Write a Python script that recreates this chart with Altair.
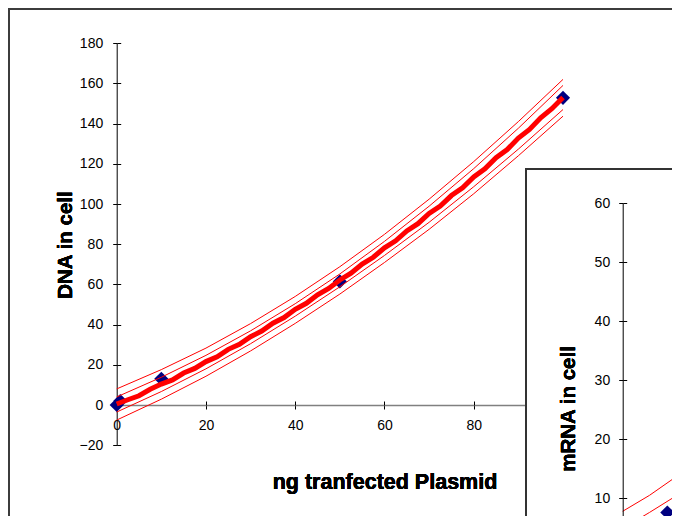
import altair as alt
import pandas as pd

# ---------------- DNA panel (main) ----------------
dna_ng = [0, 0.8, 10, 50, 100]
dna_cell = [0, 2, 13, 61.5, 152.8]

fit_ng = [0, 2.5, 5, 7.5, 10, 12.5, 15, 17.5, 20, 22.5, 25, 27.5, 30, 32.5, 35, 37.5,
          40, 42.5, 45, 47.5, 50, 52.5, 55, 57.5, 60, 62.5, 65, 67.5, 70, 72.5, 75,
          77.5, 80, 82.5, 85, 87.5, 90, 92.5, 95, 97.5, 100]
fit_dna = [0.5, 2.6, 4.6, 7.8, 10.4, 12.5, 15.9, 18.2, 21.6, 24.0, 27.7, 30.2, 34.0,
           36.8, 40.7, 43.5, 47.6, 50.6, 54.8, 58.0, 62.2, 65.6, 70.1, 73.5, 78.2,
           81.7, 86.6, 90.2, 95.3, 99.0, 104.2, 108.1, 113.5, 117.5, 123.0, 127.1,
           132.8, 137.1, 142.9, 147.4, 153.0]

band_ng = [0, 10, 20, 30, 40, 50, 60, 70, 80, 90, 100]
upper_outer = [8.0, 17.6, 28.3, 40.5, 54.0, 68.8, 84.9, 102.4, 121.1, 141.0, 162.0]
upper_inner = [4.0, 13.8, 24.7, 36.9, 50.4, 65.2, 81.4, 98.9, 117.6, 137.7, 159.0]
lower_inner = [-3.5, 6.7, 18.0, 30.5, 44.2, 58.8, 74.4, 90.9, 108.6, 127.3, 147.0]
lower_outer = [-7.5, 2.9, 14.3, 26.9, 40.6, 55.2, 70.9, 87.4, 105.1, 124.0, 143.7]

dna_ticks_x = [0, 20, 40, 60, 80, 100]
dna_ticks_y = [-20, 0, 20, 40, 60, 80, 100, 120, 140, 160, 180]

# ---------------- mRNA panel (inset) ----------------
mrna_ng = [0, 10]
mrna_cell = [0.8, 7.6]

mfit_ng = [0, 2.5, 5, 7.5, 10, 12.5, 15, 17.5, 20]
mfit_cell = [1.3, 2.6, 3.6, 4.9, 5.9, 7.2, 8.3, 9.5, 10.5]

mband_ng = [0, 6, 13, 20]
m_upper_outer = [7.8, 10.5, 14.2, 18.0]
m_upper_inner = [4.9, 7.6, 10.9, 14.0]
m_lower_inner = [-2.0, 0.7, 4.0, 7.2]
m_lower_outer = [-5.2, -2.5, 0.8, 4.0]

mrna_ticks_y = [10, 20, 30, 40, 50, 60]

W, H = 664, 508
FONT = "Liberation Sans"

# ---------------- tables ----------------
pts = pd.DataFrame({"ng": dna_ng, "val": dna_cell})
fit = pd.DataFrame({"ng": fit_ng, "val": fit_dna})
bands = pd.concat([
    pd.DataFrame({"ng": band_ng, "val": v, "band": n})
    for n, v in [("uo", upper_outer), ("ui", upper_inner),
                 ("li", lower_inner), ("lo", lower_outer)]
])

mpts = pd.DataFrame({"ng": mrna_ng, "val": mrna_cell})
mfit = pd.DataFrame({"ng": mfit_ng, "val": mfit_cell})
mbands = pd.concat([
    pd.DataFrame({"ng": mband_ng, "val": v, "band": n})
    for n, v in [("uo", m_upper_outer), ("ui", m_upper_inner),
                 ("li", m_lower_inner), ("lo", m_lower_outer)]
])

# ---------------- main scales / axes ----------------
X0, X1 = 108.7, 555          # pixel range of the main x scale
Y0, Y1 = 437.2, 35.2         # pixel range of the main y scale
XAXIS_Y = 397                # pixel row of DNA = 0
xs = alt.Scale(domain=[0, 100], range=[X0, X1], nice=False, zero=False)
ys = alt.Scale(domain=[-20, 180], range=[Y0, Y1], nice=False, zero=False)

common = dict(title=None, grid=False, tickColor="black", labelFont=FONT,
              labelFontSize=14, labelColor="black", labelFlush=False,
              labelOverlap=False)

xaxis = alt.Axis(values=dna_ticks_x, orient="bottom", offset=XAXIS_Y - H,
                 domainColor="#808080", domainWidth=1.5, tickSize=4,
                 labelPadding=9, zindex=0, **common)
yaxis = alt.Axis(values=dna_ticks_y, orient="left", offset=-X0,
                 domainColor="black", tickSize=4, labelPadding=10, zindex=0,
                 **common)

X = alt.X("ng:Q", scale=xs, axis=xaxis)
Y = alt.Y("val:Q", scale=ys, axis=yaxis)

main_pts = alt.Chart(pts).mark_point(shape="diamond", filled=True, size=200,
                                      color="#000080", opacity=1).encode(x=X, y=Y)
main_bands = alt.Chart(bands).mark_line(color="#ff0000", strokeWidth=1).encode(
    x=X, y=Y, detail="band:N")
main_fit = alt.Chart(fit).mark_line(color="#ff0000", strokeWidth=5).encode(x=X, y=Y)
main = alt.layer(main_pts, main_bands, main_fit)

# inner halves of the crossing tick marks (main panel)
main_inner_ticks = alt.Chart(pts).mark_point(opacity=0).encode(
    x=alt.X("ng:Q", scale=xs,
            axis=alt.Axis(values=dna_ticks_x, orient="top", offset=-XAXIS_Y,
                          domain=False, labels=False, tickSize=4, title=None,
                          grid=False, tickColor="black", zindex=0)),
    y=alt.Y("val:Q", scale=ys,
            axis=alt.Axis(values=dna_ticks_y, orient="right", offset=X0 - W,
                          domain=False, labels=False, tickSize=4, title=None,
                          grid=False, tickColor="black", zindex=0)),
)

# ---------------- inset scales / axes ----------------
IX0 = 614.7
ixs = alt.Scale(domain=[0, 100], range=[IX0, 1061], nice=False, zero=False)
iys = alt.Scale(domain=[0, 60], range=[549.3, 195.3], nice=False, zero=False)
iyaxis = alt.Axis(values=mrna_ticks_y, orient="left", offset=-IX0,
                  domainColor="black", tickSize=4, labelPadding=9, zindex=1,
                  **common)
IX = alt.X("ng:Q", scale=ixs, axis=None)
IY = alt.Y("val:Q", scale=iys, axis=iyaxis)

in_pts = alt.Chart(mpts).mark_point(shape="diamond", filled=True, size=200,
                                     color="#000080", opacity=1).encode(x=IX, y=IY)
in_bands = alt.Chart(mbands).mark_line(color="#ff0000", strokeWidth=1).encode(
    x=IX, y=IY, detail="band:N")
in_fit = alt.Chart(mfit).mark_line(color="#ff0000", strokeWidth=5).encode(x=IX, y=IY)
inset = alt.layer(in_pts, in_bands, in_fit)

inset_inner_ticks = alt.Chart(mpts).mark_point(opacity=0).encode(
    y=alt.Y("val:Q", scale=iys,
            axis=alt.Axis(values=mrna_ticks_y, orient="right", offset=IX0 - W,
                          domain=False, labels=False, tickSize=4, title=None,
                          grid=False, tickColor="black", zindex=1)),
    x=alt.X("ng:Q", scale=ixs, axis=None),
)

# ---------------- decorations ----------------
frame_left = alt.Chart(pts).mark_rule(color="#3c3c3c", strokeWidth=2).encode(
    x=alt.value(1), y=alt.value(0), y2=alt.value(H))
frame_top = alt.Chart(pts).mark_rule(color="#3c3c3c", strokeWidth=2).encode(
    x=alt.value(0), x2=alt.value(W), y=alt.value(1))
inset_box = alt.Chart(pts).mark_rect(fill="white", stroke="#333333",
                                     strokeWidth=2).encode(
    x=alt.value(518), x2=alt.value(W + 40), y=alt.value(161), y2=alt.value(H + 40))

title_y = alt.Chart(pts).mark_text(text="DNA in cell", angle=270, font=FONT,
                                   fontSize=20.5, fontWeight="bold", color="black",
                                   align="center", baseline="alphabetic").encode(
    x=alt.value(64), y=alt.value(237))
title_x = alt.Chart(pts).mark_text(text="ng tranfected Plasmid", font=FONT,
                                   fontSize=21.5, fontWeight="bold", color="black",
                                   align="center", baseline="alphabetic").encode(
    x=alt.value(377), y=alt.value(481))
title_iy = alt.Chart(pts).mark_text(text="mRNA in cell", angle=270, font=FONT,
                                    fontSize=20.5, fontWeight="bold", color="black",
                                    align="center", baseline="alphabetic").encode(
    x=alt.value(567), y=alt.value(401))

chart = alt.layer(
    frame_left, frame_top, main, main_inner_ticks, title_y, title_x,
    inset_box, inset, inset_inner_ticks, title_iy
).resolve_scale(x="independent", y="independent").properties(
    width=W, height=H, autosize=alt.AutoSizeParams(type="none"), padding=0,
    background="white"
).configure_view(stroke=None)

chart.save("out.html", embed_options={"renderer": "svg", "actions": False})
